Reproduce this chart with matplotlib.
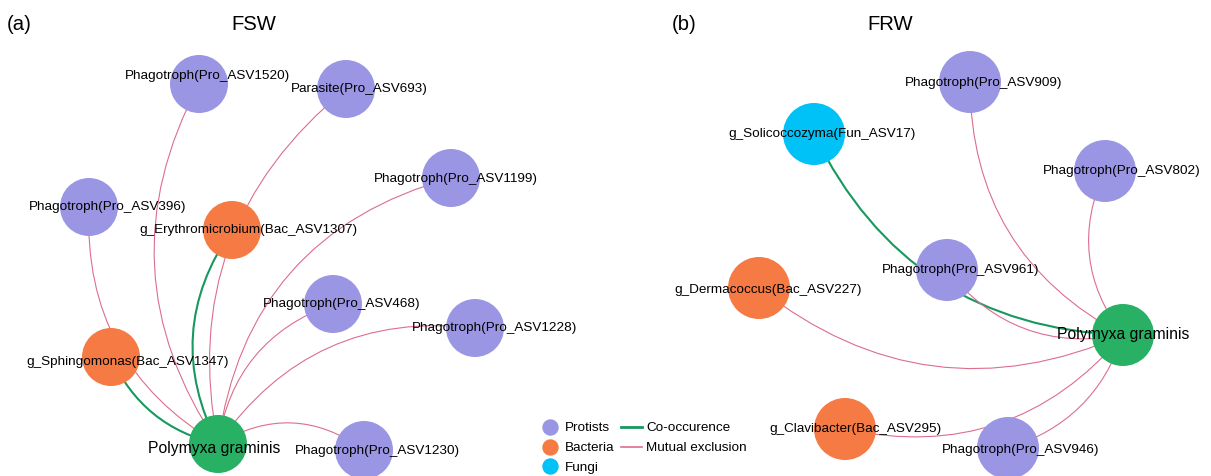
import matplotlib
matplotlib.use("Agg")
import matplotlib.pyplot as plt
from matplotlib.patches import Circle, FancyArrowPatch
from matplotlib.lines import Line2D

plt.rcParams['font.family'] = ['Liberation Sans', 'DejaVu Sans']

# group colours
group_color = {
    'Protists': '#9a96e4',
    'Bacteria': '#f57a43',
    'Fungi': '#00c2f6',
    'Host': '#28b064',
}
edge_color = {'co': '#17985f', 'mutual': '#dc6e8c'}
edge_width = {'co': 1.5, 'mutual': 0.8}

# ---- panel (a) FSW: node 0 is the hub ----
a_names = ['Polymyxa graminis', 'Phagotroph(Pro_ASV1520)', 'Parasite(Pro_ASV693)',
           'Phagotroph(Pro_ASV1199)', 'Phagotroph(Pro_ASV396)',
           'g_Erythromicrobium(Bac_ASV1307)', 'Phagotroph(Pro_ASV468)',
           'Phagotroph(Pro_ASV1228)', 'g_Sphingomonas(Bac_ASV1347)',
           'Phagotroph(Pro_ASV1230)']
a_group = ['Host', 'Protists', 'Protists', 'Protists', 'Protists', 'Bacteria',
           'Protists', 'Protists', 'Bacteria', 'Protists']
a_x = [218, 199, 346, 451, 89, 232, 333, 475, 111, 364]
a_y = [444, 84, 89, 178, 207, 230, 304, 328, 357, 450]
a_lab_dx = [-4, 9, 13, 5, 19, 16, 9, 20, 17, 13]
a_lab_dy = [4, -8, 0, 1, 0, 0, 0, 0, 5, 1]
a_edge_src = [1, 2, 3, 4, 5, 6, 7, 8, 9]
a_edge_type = ['mutual', 'mutual', 'mutual', 'mutual', 'co', 'mutual', 'mutual', 'co', 'mutual']
a_edge_rad = [0.3, 0.3, 0.33, 0.3, 0.3, 0.3, 0.3, 0.25, 0.33]

# ---- panel (b) FRW ----
b_names = ['Polymyxa graminis', 'Phagotroph(Pro_ASV909)', 'g_Solicoccozyma(Fun_ASV17)',
           'Phagotroph(Pro_ASV802)', 'Phagotroph(Pro_ASV961)', 'g_Dermacoccus(Bac_ASV227)',
           'g_Clavibacter(Bac_ASV295)', 'Phagotroph(Pro_ASV946)']
b_group = ['Host', 'Protists', 'Fungi', 'Protists', 'Protists', 'Bacteria',
           'Bacteria', 'Protists']
b_x = [1123, 970, 814, 1105, 947, 759, 845, 1008]
b_y = [335, 82, 134, 171, 270, 288, 429, 448]
b_lab_dx = [0, 14, 8, 17, 14, 9, 10, 13]
b_lab_dy = [-1, 1, 0, 0, 0, 2, 0, 2]
b_edge_src = [1, 2, 3, 4, 5, 6, 7]
b_edge_type = ['mutual', 'co', 'mutual', 'mutual', 'mutual', 'mutual', 'mutual']
b_edge_rad = [0.3, 0.3, 0.3, 0.3, 0.3, 0.3, 0.26]

fig = plt.figure(figsize=(12.11, 4.76), dpi=100)
ax = fig.add_axes([0, 0, 1, 1])
ax.set_xlim(0, 1211)
ax.set_ylim(476, 0)
ax.axis('off')


def draw_net(names, group, xs, ys, ldx, ldy, src, etype, erad, r):
    for s, t, rad in zip(src, etype, erad):
        ax.add_patch(FancyArrowPatch((xs[s], ys[s]), (xs[0], ys[0]),
                                     connectionstyle=f'arc3,rad={rad}',
                                     arrowstyle='-', shrinkA=0, shrinkB=0,
                                     color=edge_color[t], lw=edge_width[t], zorder=1))
    for i, name in enumerate(names):
        ax.add_patch(Circle((xs[i], ys[i]), r, color=group_color[group[i]], lw=0, zorder=2))
        fs = 11.3 if group[i] == 'Host' else 9.7
        ax.text(xs[i] + ldx[i], ys[i] + ldy[i], name, ha='center', va='center',
                fontsize=fs, color='black', zorder=3)


draw_net(a_names, a_group, a_x, a_y, a_lab_dx, a_lab_dy, a_edge_src, a_edge_type, a_edge_rad, 29)
draw_net(b_names, b_group, b_x, b_y, b_lab_dx, b_lab_dy, b_edge_src, b_edge_type, b_edge_rad, 31)

ax.text(7, 25, '(a)', fontsize=14.6, va='center', ha='left')
ax.text(254, 25, 'FSW', fontsize=14.6, va='center', ha='center')
ax.text(672, 25, '(b)', fontsize=14.6, va='center', ha='left')
ax.text(890, 25, 'FRW', fontsize=14.6, va='center', ha='center')

handles = [Line2D([], [], marker='o', ls='', color=group_color[g], markersize=10.8)
           for g in ['Protists', 'Bacteria', 'Fungi']]
handles += [Line2D([], [], color=edge_color['co'], lw=2),
            Line2D([], [], color=edge_color['mutual'], lw=1.2)]
labels = ['Protists', 'Bacteria', 'Fungi', 'Co-occurence', 'Mutual exclusion']
ax.legend(handles, labels, ncol=2, loc='upper left', frameon=False,
          bbox_to_anchor=(539 / 1211, 1 - 422 / 476), bbox_transform=fig.transFigure,
          fontsize=9.7, handlelength=1.6, handletextpad=0.3, columnspacing=0.5,
          labelspacing=0.55, borderpad=0, borderaxespad=0)

fig.savefig('out.png', dpi=100)
